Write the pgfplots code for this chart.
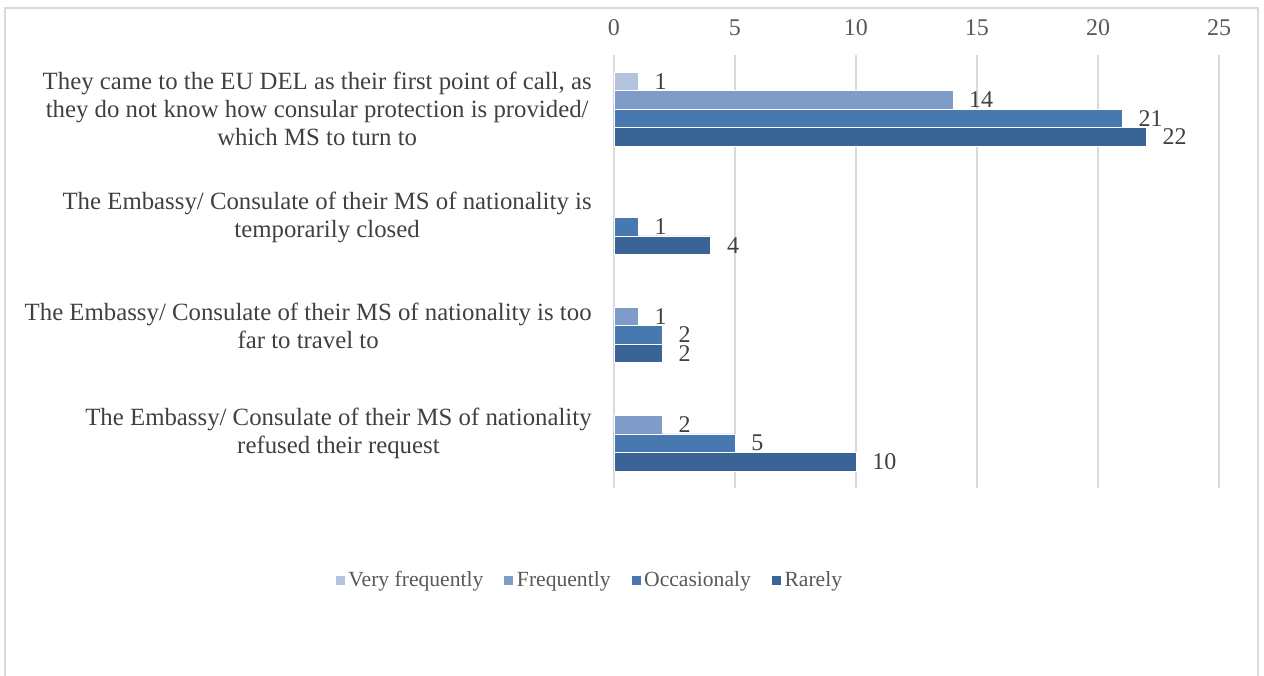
\documentclass[border=0pt]{standalone}
\usepackage{pgfplots}
\pgfplotsset{compat=1.18}
\usepackage{fontspec}
\setmainfont{Liberation Serif}

\definecolor{cVF}{HTML}{B4C4DF}
\definecolor{cF}{HTML}{7F9CC8}
\definecolor{cO}{HTML}{4878B0}
\definecolor{cR}{HTML}{3B6496}
\definecolor{gridc}{HTML}{D9D9D9}
\definecolor{txt}{HTML}{595959}
\definecolor{lbl}{HTML}{404040}

\begin{document}
\begin{tikzpicture}
\useasboundingbox (0,0) rectangle (632pt,337.5pt);
\draw[gridc, line width=1pt] (2.5pt,-10pt) rectangle (629pt,333.5pt);
\begin{axis}[
  at={(307pt,93.5pt)}, anchor=south west,
  width=302.5pt, height=216.5pt, scale only axis,
  xbar=0pt, bar width=9.25pt,
  xmin=0, xmax=25, ymin=-0.5, ymax=3.5,
  y dir=reverse,
  xtick={0,5,10,15,20,25},
  xticklabel pos=upper,
  ytick={0,1,2,3},
  yticklabels={
    {They came to the EU DEL as their first point of call, as\\they do not know how consular protection is provided/\\which MS to turn to},
    {The Embassy/ Consulate of their MS of nationality is\\temporarily closed},
    {The Embassy/ Consulate of their MS of nationality is too\\far to travel to},
    {The Embassy/ Consulate of their MS of nationality\\refused their request}},
  major tick length=0pt,
  axis line style={draw=none},
  xmajorgrids, major grid style={gridc, line width=1pt},
  /pgf/number format/assume math mode=true,
  xticklabel style={txt, yshift=6pt, font=\fontsize{12}{14}\selectfont},
  yticklabel style={lbl, align=center, anchor=east, inner sep=0pt, xshift=-11pt,
    font=\fontsize{12.4}{14}\selectfont},
  nodes near coords,
  every node near coord/.append style={lbl, anchor=west, inner sep=0pt, xshift=8pt,
    font=\fontsize{12}{14}\selectfont, /pgf/number format/assume math mode=true},
  legend columns=4,
  legend style={at={(-0.0397,-0.2125)}, anchor=center, draw=none,
    font=\fontsize{10.8}{13}\selectfont, text=txt,
    nodes={inner sep=1.5pt},
    /tikz/every even column/.append style={column sep=8.5pt}},
  legend image code/.code={\fill[#1] (0pt,-2.5pt) rectangle (5pt,2.5pt);},
]
\addplot[fill=cVF, draw=white, line width=0.3pt, bar shift=13.875pt] coordinates {(1,0)};
\addplot[fill=cF, draw=white, line width=0.3pt, bar shift=4.625pt] coordinates {(14,0) (1,2) (2,3)};
\addplot[fill=cO, draw=white, line width=0.3pt, bar shift=-4.625pt] coordinates {(21,0) (1,1) (2,2) (5,3)};
\addplot[fill=cR, draw=white, line width=0.3pt, bar shift=-13.875pt] coordinates {(22,0) (4,1) (2,2) (10,3)};
\legend{Very frequently, Frequently, Occasionaly, Rarely}
\end{axis}
\end{tikzpicture}
\end{document}
